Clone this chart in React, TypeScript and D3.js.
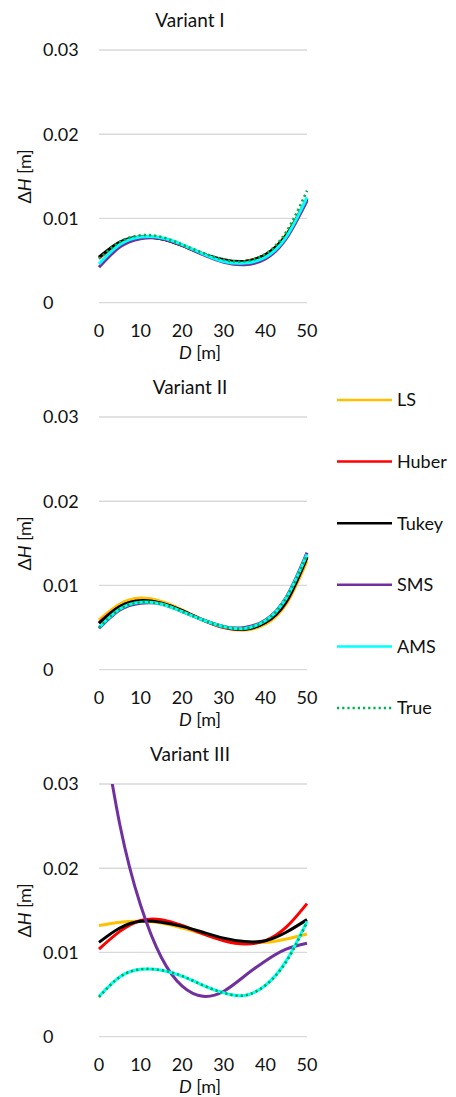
import React, { useRef, useEffect } from "react";
import * as d3 from "d3";

// distance along the line, shared by all panels
const distances = [0, 5, 10, 15, 20, 25, 30, 35, 40, 45, 50];
const xTicks = [0, 10, 20, 30, 40, 50];
const yTicks = [0, 0.01, 0.02, 0.03];
const yTickLabels = ["0", "0.01", "0.02", "0.03"];

const seriesNames = ["LS", "Huber", "Tukey", "SMS", "AMS", "True"];
const seriesColors = ["#FFC000", "#FF0000", "#000000", "#7030A0", "#00FFFF", "#00B050"];

const panelTitles = ["Variant I", "Variant II", "Variant III"];

// Variant I
const v1LS = [0.0053, 0.0071, 0.0078, 0.0077, 0.0068, 0.0058, 0.005, 0.0049, 0.0057, 0.0081, 0.0124];
const v1Huber = [0.0053, 0.0071, 0.0078, 0.0076, 0.0068, 0.0058, 0.005, 0.0049, 0.0057, 0.008, 0.0123];
const v1Tukey = [0.0054, 0.0072, 0.0078, 0.0076, 0.0068, 0.0058, 0.0051, 0.0049, 0.0057, 0.008, 0.0123];
const v1SMS = [0.0042, 0.0066, 0.0076, 0.0076, 0.0068, 0.0057, 0.0048, 0.0045, 0.0052, 0.0076, 0.0121];
const v1AMS = [0.0046, 0.0069, 0.0078, 0.0077, 0.0069, 0.0058, 0.0049, 0.0047, 0.0054, 0.0078, 0.0125];
const v1True = [0.0052, 0.0072, 0.008, 0.0078, 0.0069, 0.0059, 0.0051, 0.0049, 0.0058, 0.0084, 0.0133];

// Variant II
const v2LS = [0.0059, 0.0078, 0.0085, 0.0081, 0.0071, 0.0059, 0.005, 0.0047, 0.0054, 0.0078, 0.0129];
const v2Huber = [0.0056, 0.0075, 0.0082, 0.0079, 0.007, 0.0059, 0.005, 0.0048, 0.0056, 0.008, 0.0133];
const v2Tukey = [0.0055, 0.0075, 0.0082, 0.0079, 0.007, 0.0059, 0.0051, 0.0048, 0.0056, 0.0081, 0.0134];
const v2SMS = [0.0049, 0.0071, 0.0079, 0.0078, 0.0069, 0.0059, 0.0051, 0.005, 0.0059, 0.0086, 0.0139];
const v2AMS = [0.005, 0.0072, 0.008, 0.0078, 0.0069, 0.0059, 0.0051, 0.0049, 0.0058, 0.0085, 0.0137];
const v2True = [0.005, 0.0072, 0.008, 0.0078, 0.0069, 0.0059, 0.0051, 0.0049, 0.0058, 0.0085, 0.0136];

// Variant III
const v3LS = [0.0132, 0.0136, 0.0137, 0.0135, 0.0129, 0.0122, 0.0115, 0.0112, 0.0112, 0.0116, 0.0122];
const v3Huber = [0.0104, 0.0125, 0.0138, 0.0139, 0.0132, 0.0122, 0.0114, 0.011, 0.0114, 0.013, 0.0158];
const v3Tukey = [0.0112, 0.0129, 0.0137, 0.0136, 0.0131, 0.0124, 0.0117, 0.0113, 0.0114, 0.0124, 0.0139];
const v3SMS = [0.0395, 0.0252, 0.0156, 0.0094, 0.006, 0.0048, 0.0054, 0.0072, 0.009, 0.0104, 0.0111];
const v3AMS = [0.0048, 0.0071, 0.008, 0.0079, 0.0072, 0.0061, 0.0052, 0.0049, 0.0061, 0.009, 0.0137];
const v3True = [0.0047, 0.0071, 0.008, 0.0079, 0.0072, 0.0061, 0.0052, 0.0049, 0.0061, 0.0089, 0.0136];

const FONT = "Lato, 'Open Sans', sans-serif";
const TEXT = "#111";

function App() {
  const ref = useRef<SVGSVGElement>(null);

  useEffect(() => {
    const svg = d3.select(ref.current);
    svg.selectAll("*").remove();

    const panels = [
      [v1LS, v1Huber, v1Tukey, v1SMS, v1AMS, v1True],
      [v2LS, v2Huber, v2Tukey, v2SMS, v2AMS, v2True],
      [v3LS, v3Huber, v3Tukey, v3SMS, v3AMS, v3True],
    ];

    const plotLeft = 99;
    const plotRight = 307;
    const plotHeight = 252.7;
    const panelStep = 367;

    const x = d3.scaleLinear().domain([0, 50]).range([plotLeft, plotRight]);

    panels.forEach((series, i) => {
      const top = 50 + i * panelStep;
      const bottom = top + plotHeight;
      const y = d3.scaleLinear().domain([0, 0.03]).range([bottom, top]);
      const g = svg.append("g");

      svg
        .append("clipPath")
        .attr("id", `clip${i}`)
        .append("rect")
        .attr("x", plotLeft - 2)
        .attr("y", top)
        .attr("width", plotRight - plotLeft + 4)
        .attr("height", plotHeight + 4);

      g.selectAll(".grid")
        .data(yTicks)
        .enter()
        .append("line")
        .attr("x1", plotLeft)
        .attr("x2", plotRight)
        .attr("y1", (d) => y(d))
        .attr("y2", (d) => y(d))
        .style("stroke", "#d9d9d9")
        .style("stroke-width", 1.3);

      g.selectAll(".ytick")
        .data(yTicks)
        .enter()
        .append("text")
        .attr("x", 43)
        .attr("y", (d) => y(d))
        .attr("dy", "0.36em")
        .style("font-family", FONT)
        .style("font-size", "18px")
        .style("fill", TEXT)
        .text((d, j) => yTickLabels[j]);

      g.selectAll(".xtick")
        .data(xTicks)
        .enter()
        .append("text")
        .attr("x", (d) => x(d))
        .attr("y", bottom + 27.5)
        .attr("dy", "0.36em")
        .style("text-anchor", "middle")
        .style("font-family", FONT)
        .style("font-size", "18px")
        .style("fill", TEXT)
        .text((d) => String(d));

      // panel title
      g.append("text")
        .attr("x", 190)
        .attr("y", top - 23.5)
        .style("text-anchor", "middle")
        .style("font-family", FONT)
        .style("font-size", "19px")
        .style("fill", TEXT)
        .text(panelTitles[i]);

      // x axis title
      const xt = g
        .append("text")
        .attr("x", 200)
        .attr("y", bottom + 56)
        .style("text-anchor", "middle")
        .style("font-family", FONT)
        .style("font-size", "18px")
        .style("fill", TEXT);
      xt.append("tspan").style("font-style", "italic").text("D");
      xt.append("tspan").text(" [m]");

      // y axis title
      const yt = g
        .append("text")
        .attr("transform", `translate(25,${(top + bottom) / 2}) rotate(-90)`)
        .attr("dy", "0.36em")
        .style("text-anchor", "middle")
        .style("font-family", FONT)
        .style("font-size", "18px")
        .style("fill", TEXT);
      yt.append("tspan").text("Δ");
      yt.append("tspan").style("font-style", "italic").text("H");
      yt.append("tspan").text(" [m]");

      const line = d3
        .line<number>()
        .x((d, j) => x(distances[j]))
        .y((d) => y(d))
        .curve(d3.curveNatural);

      const lines = g.append("g").attr("clip-path", `url(#clip${i})`);
      series.forEach((values, k) => {
        const isTrue = seriesNames[k] === "True";
        lines
          .append("path")
          .attr("d", line(values))
          .style("fill", "none")
          .style("stroke", seriesColors[k])
          .style("stroke-width", isTrue ? 2.6 : 3)
          .style("stroke-dasharray", isTrue ? "2.2,3" : null)
          .style("stroke-linecap", "butt");
      });
    });

    // legend
    const legendY = d3
      .scalePoint<string>()
      .domain(seriesNames)
      .range([400, 708]);

    const legend = svg
      .selectAll(".legend")
      .data(seriesNames)
      .enter()
      .append("g")
      .attr("transform", (d) => `translate(337,${legendY(d)})`);

    legend
      .append("line")
      .attr("x1", 0)
      .attr("x2", 55)
      .style("stroke", (d, k) => seriesColors[k])
      .style("stroke-width", 2.5)
      .style("stroke-dasharray", (d) => (d === "True" ? "2.2,3" : null));

    legend
      .append("text")
      .attr("x", 60)
      .attr("dy", "0.36em")
      .style("font-family", FONT)
      .style("font-size", "18px")
      .style("fill", TEXT)
      .text((d) => d);
  }, []);

  return (
    <svg
      ref={ref}
      width={456}
      height={1097}
      style={{ position: "absolute", left: 0, top: 0, background: "#fff" }}
    ></svg>
  );
}

export default App;
